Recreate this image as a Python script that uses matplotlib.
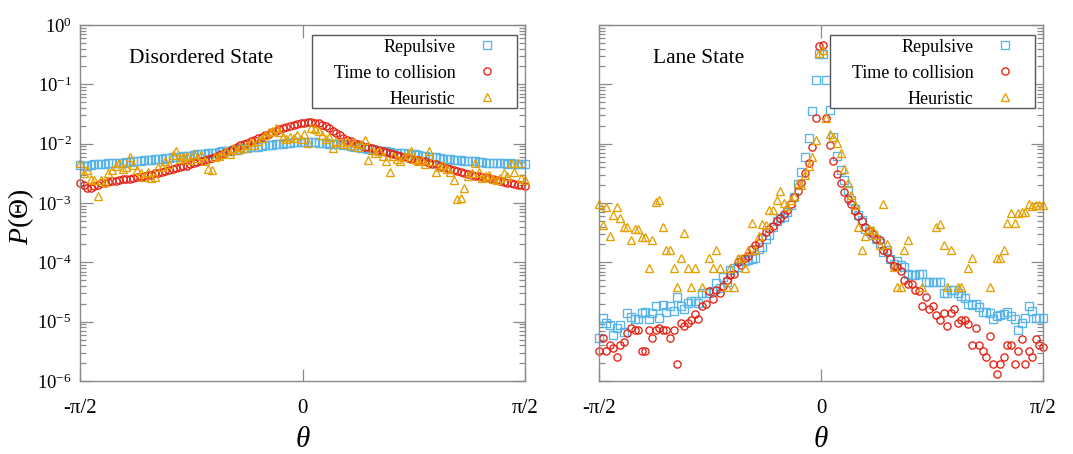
import numpy as np
import matplotlib
matplotlib.use("Agg")
import matplotlib.pyplot as plt
from matplotlib.ticker import LogLocator, FixedLocator, NullFormatter
from matplotlib.patches import Rectangle
from matplotlib.lines import Line2D

nan = float("nan")

# 126 angle bins spanning -pi/2 .. pi/2
theta = np.linspace(-np.pi / 2, np.pi / 2, 126)
xtick_vals = [-np.pi / 2, 0.0, np.pi / 2]
xtick_labels = ["-\u03c0/2", "0", "\u03c0/2"]
series_labels = ["Repulsive", "Time to collision", "Heuristic"]
panel_titles = ["Disordered State", "Lane State"]

# ---- Disordered state: log10 P(theta) ----
dis_rep_log = [
    -2.36, -2.37, -2.37, -2.36, -2.35, -2.35, -2.34, -2.34, -2.33, -2.33,
    -2.32, -2.33, -2.32, -2.31, -2.31, -2.30, -2.30, -2.29, -2.28, -2.28,
    -2.27, -2.26, -2.25, -2.25, -2.24, -2.24, -2.23, -2.22, -2.22, -2.21,
    -2.20, -2.20, -2.19, -2.18, -2.18, -2.17, -2.16, -2.15, -2.15, -2.14,
    -2.13, -2.12, -2.12, -2.11, -2.10, -2.09, -2.08, -2.07, -2.06, -2.05,
    -2.05, -2.04, -2.03, -2.02, -2.02, -2.01, -2.00, -2.00, -1.99, -1.99,
    -1.98, -1.98, -1.98, -1.97, -1.98, -1.98, -1.98, -1.99, -1.99, -1.99,
    -2.00, -2.00, -2.01, -2.01, -2.02, -2.03, -2.04, -2.05, -2.06, -2.07,
    -2.08, -2.09, -2.10, -2.11, -2.12, -2.12, -2.13, -2.14, -2.15, -2.15,
    -2.16, -2.16, -2.17, -2.17, -2.18, -2.19, -2.20, -2.21, -2.22, -2.22,
    -2.23, -2.24, -2.25, -2.25, -2.26, -2.27, -2.27, -2.28, -2.29, -2.29,
    -2.30, -2.30, -2.31, -2.31, -2.32, -2.32, -2.32, -2.33, -2.33, -2.33,
    -2.34, -2.33, -2.34, -2.34, -2.35, -2.35,
]
dis_ttc_log = [
    -2.67, -2.70, -2.74, -2.75, -2.72, -2.69, -2.66, -2.66, -2.64, -2.63,
    -2.63, -2.62, -2.60, -2.60, -2.59, -2.58, -2.57, -2.57, -2.55, -2.53,
    -2.52, -2.50, -2.49, -2.47, -2.46, -2.45, -2.43, -2.41, -2.40, -2.38,
    -2.37, -2.35, -2.33, -2.31, -2.29, -2.27, -2.25, -2.24, -2.22, -2.19,
    -2.17, -2.14, -2.12, -2.09, -2.06, -2.03, -2.01, -1.99, -1.96, -1.94,
    -1.91, -1.88, -1.86, -1.83, -1.81, -1.79, -1.76, -1.74, -1.72, -1.70,
    -1.68, -1.67, -1.66, -1.65, -1.64, -1.64, -1.65, -1.66, -1.68, -1.71,
    -1.74, -1.78, -1.82, -1.86, -1.90, -1.93, -1.96, -1.99, -2.01, -2.03,
    -2.05, -2.06, -2.08, -2.09, -2.11, -2.12, -2.14, -2.16, -2.18, -2.19,
    -2.21, -2.22, -2.24, -2.25, -2.27, -2.28, -2.29, -2.30, -2.32, -2.34,
    -2.35, -2.37, -2.39, -2.41, -2.42, -2.44, -2.46, -2.47, -2.49, -2.51,
    -2.52, -2.54, -2.55, -2.56, -2.57, -2.58, -2.59, -2.62, -2.63, -2.64,
    -2.66, -2.67, -2.68, -2.69, -2.70, -2.71,
]
dis_heu_log = [
    -2.33, -2.50, -2.45, -2.60, -2.61, -2.89, -2.62, -2.64, -2.50, -2.45,
    -2.38, -2.33, -2.42, -2.39, -2.22, -2.36, -2.44, -2.50, -2.56, -2.47,
    -2.58, -2.56, -2.39, -2.40, -2.30, -2.35, -2.19, -2.13, -2.25, -2.22,
    -2.20, -2.28, -2.17, -2.24, -2.19, -2.30, -2.42, -2.45, -2.22, -2.20,
    -2.17, -2.12, -2.18, -2.08, -2.10, -2.05, -2.07, -2.02, -1.98, -2.02,
    -1.95, -1.90, -1.86, -1.80, -1.78, -1.74, -1.80, -1.88, -1.92, -1.88,
    -1.90, -1.86, -1.92, -1.83, -1.99, -1.74, -1.76, -1.78, -1.85, -1.92,
    -1.88, -2.08, -1.95, -1.98, -2.00, -1.96, -2.02, -1.98, -2.05, -2.00,
    -1.94, -2.28, -2.10, -2.15, -2.13, -2.20, -2.30, -2.47, -2.20, -2.25,
    -2.30, -2.22, -2.18, -2.13, -2.25, -2.30, -2.28, -2.35, -2.13, -2.30,
    -2.47, -2.40, -2.36, -2.42, -2.48, -2.62, -2.93, -2.91, -2.74, -2.55,
    -2.50, -2.33, -2.47, -2.58, -2.55, -2.52, -2.60, -2.62, -2.58, -2.50,
    -2.55, -2.33, -2.47, -2.33, -2.58, -2.61,
]

# ---- Lane state: log10 P(theta) (nan = empty bin) ----
lane_rep_log = [
    -5.28, -4.94, -5.03, -5.06, -5.22, -5.10, -5.06, -5.17, -4.85, -4.92,
    -4.96, -4.96, -4.85, -4.83, -4.96, -4.86, -4.74, -4.94, -4.72, -4.83,
    -4.74, -4.82, -4.58, -4.74, -4.78, -4.69, -4.66, -4.66, -4.68, -4.52,
    -4.51, -4.52, -4.48, -4.35, -4.44, -4.24, -4.33, -4.13, -4.10, -4.08,
    -3.96, -3.98, -3.96, -3.95, -3.93, -3.78, -3.74, -3.61, -3.54, -3.40,
    -3.31, -3.25, -3.23, -3.15, -3.03, -2.90, -2.68, -2.47, -2.22, -1.90,
    -1.45, -0.93, -0.49, -0.49, -0.93, -1.43, -1.88, -2.21, -2.44, -2.61,
    -2.78, -2.95, -3.10, -3.20, -3.29, -3.43, -3.48, -3.54, -3.60, -3.68,
    -3.82, -3.80, -3.95, -4.02, -3.98, -4.05, -4.08, -4.20, -4.21, -4.21,
    -4.19, -4.19, -4.33, -4.33, -4.33, -4.33, -4.33, -4.51, -4.51, -4.47,
    -4.47, -4.52, -4.57, -4.60, -4.70, -4.72, -4.70, -4.76, -4.83, -4.83,
    -4.86, -4.96, -4.90, -4.89, -4.87, -4.83, -4.90, -4.96, -5.14, -5.03,
    -4.93, -4.74, -4.82, -4.93, -4.93, -4.93,
]
lane_ttc_log = [
    -5.49, -5.28, -5.49, -5.40, -5.45, -5.59, -5.40, -5.34, -5.19, -5.10,
    -5.14, -5.14, -5.49, -5.49, -5.14, -5.28, -5.14, -5.10, -5.14, -5.14,
    -5.28, -5.14, -5.71, -5.02, -5.07, -5.02, -4.97, -4.87, -4.96, -4.74,
    -4.70, -4.48, -4.61, -4.46, -4.51, -4.40, -4.30, -4.21, -4.19, -4.00,
    -4.04, -3.93, -3.89, -3.78, -3.71, -3.67, -3.58, -3.49, -3.44, -3.39,
    -3.31, -3.26, -3.19, -3.11, -3.02, -2.90, -2.79, -2.66, -2.49, -2.33,
    -2.05, -1.56, -0.35, -0.34, -1.56, -2.03, -2.30, -2.51, -2.66, -2.81,
    -2.94, -3.02, -3.13, -3.22, -3.31, -3.41, -3.48, -3.53, -3.61, -3.63,
    -3.80, -3.82, -3.95, -4.06, -4.08, -4.14, -4.30, -4.37, -4.37, -4.47,
    -4.48, -4.74, -4.59, -4.79, -4.74, -4.89, -4.97, -4.86, -5.07, -4.86,
    -4.78, -5.02, -4.97, -4.97, -5.04, -5.40, -5.10, -5.40, -5.49, -5.59,
    -5.24, -5.71, -5.88, -5.71, -5.59, -5.40, -5.40, -5.71, -5.49, -5.29,
    -5.71, -5.49, -5.59, -5.29, -5.40, -5.42,
]
lane_heu_log = [
    -3.02, -3.37, -3.06, -3.56, -3.20, -3.07, -3.26, -3.40, -3.40, -3.62,
    -3.44, -3.44, -3.57, -3.57, -4.10, -3.62, -2.99, -2.95, -3.40, -3.80,
    -3.80, -4.10, -4.41, -3.93, -3.50, -4.10, -4.41, -4.10, nan, -4.41,
    nan, -3.93, -4.10, -3.80, -4.10, nan, -4.41, -4.10, -4.41, -3.93,
    -3.93, -4.10, -3.79, -3.33, -3.80, -3.56, -3.35, -3.37, -3.11, -3.12,
    -2.95, -2.79, -3.00, -3.05, -2.95, -2.89, -2.67, -2.70, -2.53, -2.38,
    -2.22, -1.94, -0.48, -0.42, -1.56, -1.83, -1.89, -1.99, -2.15, -2.43,
    -2.66, -2.87, -3.04, -3.40, -3.80, -3.56, -3.44, -3.46, -3.54, -3.70,
    -3.01, -3.69, nan, -4.08, -4.41, -4.41, -3.80, -3.62, nan, nan,
    nan, -4.41, nan, nan, nan, -3.40, -3.36, -3.71, -4.41, -3.80,
    nan, -4.41, -4.41, nan, -4.10, -3.93, nan, nan, nan, nan,
    -4.41, nan, -3.93, -3.93, -3.80, -3.33, -3.17, -3.33, -3.17, -3.15,
    -3.15, -3.02, -3.05, -3.03, -3.03, -3.03,
]

colors = ["#56b4e9", "#e51e10", "#e69f00"]
markers = ["s", "o", "^"]
grey = "#8a8a8a"

plt.rcParams["font.family"] = ["Liberation Serif", "DejaVu Serif"]
plt.rcParams["mathtext.fontset"] = "custom"
plt.rcParams["mathtext.rm"] = "Liberation Serif"
plt.rcParams["mathtext.it"] = "Liberation Serif:italic"
plt.rcParams["axes.unicode_minus"] = False

W, H = 1073, 454
fig = plt.figure(figsize=(W / 100, H / 100), dpi=100)
axL = fig.add_axes([80 / W, 73 / H, 445 / W, 356 / H])
axR = fig.add_axes([599 / W, 73 / H, 444 / W, 356 / H])

panels = [
    (axL, [dis_rep_log, dis_ttc_log, dis_heu_log], panel_titles[0], 0.110),
    (axR, [lane_rep_log, lane_ttc_log, lane_heu_log], panel_titles[1], 0.121),
]

for i, (ax, logs, title, tx) in enumerate(panels):
    for vals, c, m in zip(logs, colors, markers):
        p = np.power(10.0, np.array(vals, dtype=float))
        ax.plot(theta, p, ls="none", marker=m, ms=5.2 if m != "^" else 5.6,
                mfc="none", mec=c, mew=0.95, clip_on=False)
    ax.set_yscale("log")
    ax.set_ylim(1e-6, 1.0)
    ax.set_xlim(-np.pi / 2, np.pi / 2)
    ax.yaxis.set_major_locator(LogLocator(base=10, numticks=20))
    ax.yaxis.set_minor_locator(LogLocator(base=10, subs=np.arange(2, 10), numticks=200))
    ax.yaxis.set_minor_formatter(NullFormatter())
    ax.xaxis.set_major_locator(FixedLocator(xtick_vals))
    ax.set_xticklabels(xtick_labels)
    for s in ax.spines.values():
        s.set_color(grey)
        s.set_linewidth(1.0)
    ax.tick_params(which="both", direction="in", top=True, right=True,
                   color=grey, width=0.9)
    ax.tick_params(which="major", length=9)
    ax.tick_params(which="minor", length=4.5)
    ax.tick_params(axis="x", labelsize=15, pad=13)
    ax.tick_params(axis="y", labelsize=13.5, pad=6)
    if i == 1:
        ax.tick_params(axis="y", labelleft=False)
    ax.set_xlabel(r"$\theta$", fontsize=21)
    ax.xaxis.set_label_coords(0.5, -0.128)
    ax.text(tx, 0.905, title, transform=ax.transAxes, fontsize=15.5,
            ha="left", va="center")

    # legend frame + entries (markers on the right, labels right-aligned)
    ax.add_patch(Rectangle((0.521, 0.767), 0.461, 0.205, transform=ax.transAxes,
                           fc="white", ec="#555555", lw=1.0, zorder=5))
    handles = [Line2D([], [], ls="none", marker=m, ms=5.2 if m != "^" else 5.6,
                      mfc="none", mec=c, mew=0.95)
               for c, m in zip(colors, markers)]
    leg = ax.legend(handles, series_labels, loc="upper right",
                    bbox_to_anchor=(0.935, 0.962), frameon=False,
                    markerfirst=False, fontsize=13, handlelength=1.0,
                    handletextpad=1.26, labelspacing=0.50, borderpad=0,
                    borderaxespad=0)
    leg.set_zorder(6)

axL.set_ylabel(r"$P(\Theta)$", fontsize=20)
axL.yaxis.set_label_coords(-0.098, 0.46)

fig.savefig("out.png", dpi=100)
